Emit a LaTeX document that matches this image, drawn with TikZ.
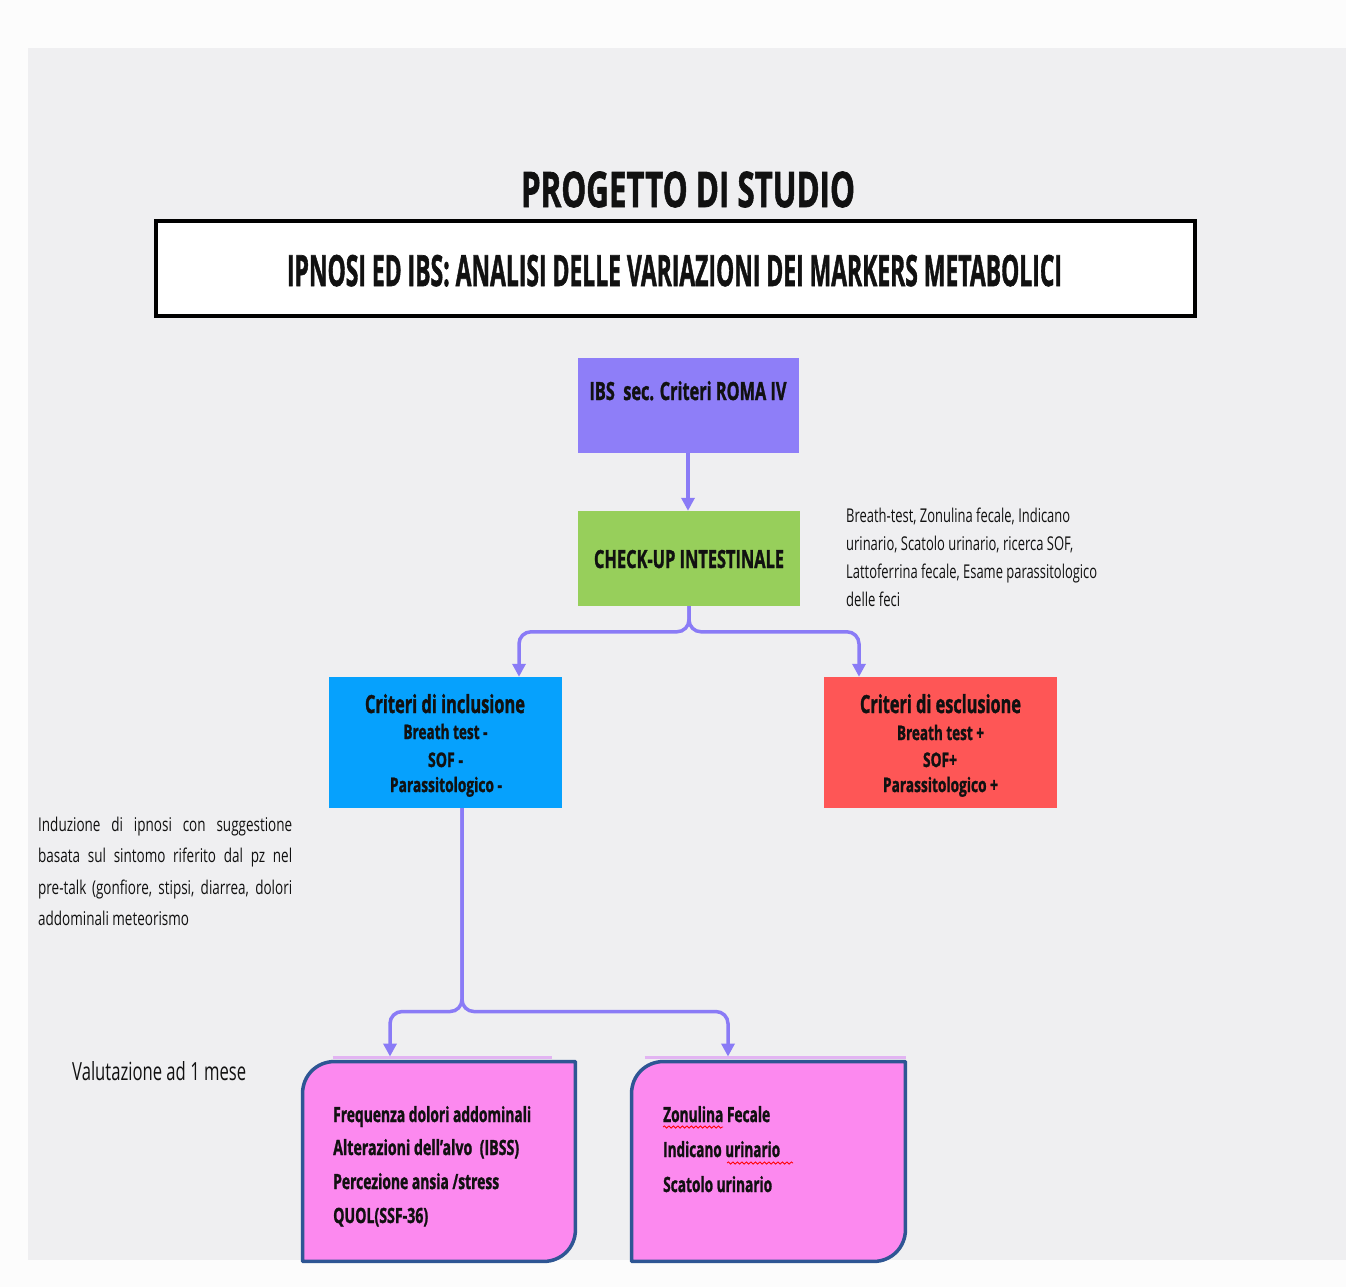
\documentclass[tikz,border=0pt]{standalone}
\usepackage{fontspec}
\setmainfont{Open Sans}[BoldFeatures={FakeBold=1.6}]
\newfontfamily\regc{Open Sans}[FakeStretch=0.71]
\usetikzlibrary{arrows.meta,calc,decorations.pathmorphing}
\definecolor{outerbg}{HTML}{FCFCFC}
\definecolor{panel}{HTML}{EFEFF1}
\definecolor{ibsc}{HTML}{8E7EF8}
\definecolor{chkc}{HTML}{97CF5B}
\definecolor{incc}{HTML}{06A1FD}
\definecolor{excc}{HTML}{FE5656}
\definecolor{pinkc}{HTML}{FC89EF}
\definecolor{bordc}{HTML}{2E5694}
\definecolor{arrc}{HTML}{8A7BF6}
\definecolor{lilac}{HTML}{E2B4F2}
\definecolor{inkc}{HTML}{111111}
\newcommand\W[2]{\resizebox{#1}{\height}{#2}}
\begin{document}
\begin{tikzpicture}[x=1pt,y=-1pt,
  txt/.style={inner sep=0pt, text=inkc},
  fbox/.style={inner sep=0pt, draw=none},
  conn/.style={draw=arrc, line width=3.5pt, rounded corners=12pt,
    -{Triangle[width=13pt,length=13pt]}},
  pinkshape/.style={fill=pinkc, draw=bordc, line width=3.5pt, line join=round},
  wavy/.style={draw=red, line width=0.8pt, decorate,
    decoration={snake, amplitude=1.1pt, segment length=4.5pt}},
  boxfont/.style={font=\fontsize{21}{21}\selectfont\bfseries},
  critbig/.style={font=\fontsize{25}{25}\selectfont\bfseries},
  critsmall/.style={font=\fontsize{20}{20}\selectfont\bfseries},
  notefont/.style={font=\fontsize{19}{19}\selectfont}]

\fill[outerbg] (0,0) rectangle (1346,1287);
\fill[panel] (28,48) rectangle (1346,1260);
\useasboundingbox (0,0) rectangle (1346,1287);

% title
\node[txt, anchor=base] (title) at (688,207)
  {\fontsize{49}{49}\selectfont\bfseries\W{334pt}{PROGETTO DI STUDIO}};
\node[draw=black, line width=4pt, fill=white, minimum width=1039pt,
  minimum height=95pt, inner sep=0pt] (sub) at (675.5,268.5) {};
\node[txt, anchor=base] (subT) at (674.5,286)
  {\fontsize{43}{43}\selectfont\bfseries\W{775pt}{IPNOSI ED IBS: ANALISI DELLE VARIAZIONI DEI MARKERS METABOLICI}};

% boxes
\node[fbox, fill=ibsc, minimum width=221pt, minimum height=95pt] (ibs) at (688,405.5) {};
\node[txt, anchor=base, critbig] (ibsT) at (688,400) {\W{197pt}{IBS\ \ sec. Criteri ROMA IV}};

\node[fbox, fill=chkc, minimum width=222pt, minimum height=95pt] (check) at (689,558.5) {};
\node[txt, anchor=base, critbig] (checkT) at (689,568) {\W{190pt}{CHECK-UP INTESTINALE}};

\node[fbox, fill=incc, minimum width=233pt, minimum height=131pt] (incl) at (445.5,742.5) {};
\node[txt, anchor=base, critbig] (inc1) at (445,713) {\W{160pt}{Criteri di inclusione}};
\node[txt, anchor=base, critsmall] (inc2) at (445.5,739) {\W{84pt}{Breath test -}};
\node[txt, anchor=base, critsmall] (inc3) at (445.5,767) {\W{35pt}{SOF -}};
\node[txt, anchor=base, critsmall] (inc4) at (446,792) {\W{112pt}{Parassitologico -}};

\node[fbox, fill=excc, minimum width=233pt, minimum height=131pt] (excl) at (940.5,742.5) {};
\node[txt, anchor=base, critbig] (exc1) at (940.5,713) {\W{161pt}{Criteri di esclusione}};
\node[txt, anchor=base, critsmall] (exc2) at (940.5,740) {\W{87pt}{Breath test +}};
\node[txt, anchor=base, critsmall] (exc3) at (940,767) {\W{34pt}{SOF+}};
\node[txt, anchor=base, critsmall] (exc4) at (940.5,792) {\W{115pt}{Parassitologico +}};

% note text
\node[txt, anchor=base west, notefont] (n1) at (846,522) {\W{224pt}{Breath-test, Zonulina fecale, Indicano}};
\node[txt, anchor=base west, notefont] (n2) at (846,550) {\W{227pt}{urinario, Scatolo urinario, ricerca SOF,}};
\node[txt, anchor=base west, notefont] (n3) at (846,578) {\W{251pt}{Lattoferrina fecale, Esame parassitologico}};
\node[txt, anchor=base west, notefont] (n4) at (846,606) {\W{54pt}{delle feci}};

% induction text
\node[txt, anchor=base west, notefont] (i1) at (38,831) {\regc\makebox[254pt][s]{Induzione di ipnosi con suggestione}};
\node[txt, anchor=base west, notefont] (i2) at (38,862) {\regc\makebox[254pt][s]{basata sul sintomo riferito dal pz nel}};
\node[txt, anchor=base west, notefont] (i3) at (38,894) {\regc\makebox[254pt][s]{pre-talk (gonfiore, stipsi, diarrea, dolori}};
\node[txt, anchor=base west, notefont] (i4) at (38,925) {\regc addominali meteorismo};

\node[txt, anchor=base west, font=\fontsize{25}{25}\selectfont] (val) at (72,1080) {\W{174pt}{Valutazione ad 1 mese}};

% bottom boxes
\node[fbox, minimum width=272.5pt, minimum height=199.5pt] (bl) at (439,1161.5) {};
\node[fbox, minimum width=273.5pt, minimum height=199.5pt] (br) at (768.5,1161.5) {};

\draw[lilac, line width=3pt] ($(bl.north west)+(30,-4.5)$) -- ($(bl.north west)+(249,-4.5)$);
\draw[lilac, line width=3pt] ($(br.north west)+(13,-4.5)$) -- ($(br.north east)+(1,-4.5)$);

\foreach \b in {bl,br}{
\path[pinkshape]
  ($(\b.north west)+(0,32)$) .. controls ($(\b.north west)+(0,14)$) and ($(\b.north west)+(14,0)$) .. ($(\b.north west)+(32,0)$)
  -- (\b.north east) -- ($(\b.south east)+(0,-32)$)
  .. controls ($(\b.south east)+(0,-14)$) and ($(\b.south east)+(-14,0)$) .. ($(\b.south east)+(-32,0)$)
  -- (\b.south west) -- cycle;
}

\node[txt, anchor=base west, boxfont] (bl1) at (333,1122) {\W{198pt}{Frequenza dolori addominali}};
\node[txt, anchor=base west, boxfont] (bl2) at (333,1155) {\W{186pt}{Alterazioni dell’alvo\ \ (IBSS)}};
\node[txt, anchor=base west, boxfont] (bl3) at (333,1189) {\W{166pt}{Percezione ansia /stress}};
\node[txt, anchor=base west, boxfont] (bl4) at (333,1223) {\W{95pt}{QUOL(SSF-36)}};

\node[txt, anchor=base west, boxfont] (br1) at (663,1122) {\W{107pt}{Zonulina Fecale}};
\node[txt, anchor=base west, boxfont] (br2) at (663,1157) {\W{117pt}{Indicano urinario}};
\node[txt, anchor=base west, boxfont] (br3) at (663,1192) {\W{109pt}{Scatolo urinario}};
\draw[wavy] ($(br1.base west)+(0,5)$) -- ($(br1.base west)+(60,5)$);
\draw[wavy] ($(br2.base west)+(64,6)$) -- ($(br2.base west)+(130,6)$);

% connectors
\draw[conn] (ibs.south) -- (ibs.south |- check.north);
\draw[conn] (check.south) |- ($(incl.north)+(73.5,-45)$) -- ($(incl.north)+(73.5,0)$);
\draw[conn] (check.south) |- ($(excl.north)+(-81.5,-45)$) -- ($(excl.north)+(-81.5,0)$);
\draw[conn] ($(incl.south)+(16.5,0)$) |- ($(bl.north)+(-49,-50)$) -- ($(bl.north)+(-49,-5)$);
\draw[conn] ($(incl.south)+(16.5,0)$) |- ($(br.north)+(-40.5,-50)$) -- ($(br.north)+(-40.5,-5)$);
\end{tikzpicture}
\end{document}
